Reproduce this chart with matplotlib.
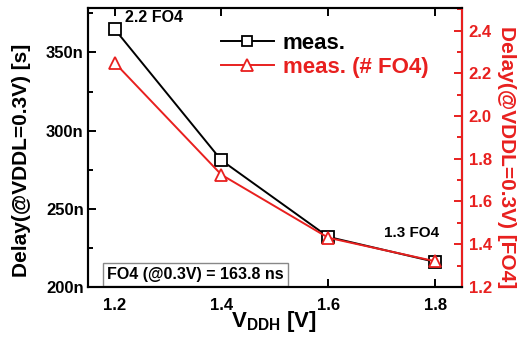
import matplotlib
matplotlib.use("Agg")
import matplotlib.pyplot as plt
from matplotlib.ticker import MultipleLocator, FuncFormatter

plt.rcParams["font.family"] = ["Liberation Sans", "DejaVu Sans"]
plt.rcParams["font.weight"] = "bold"
plt.rcParams["mathtext.fontset"] = "custom"
plt.rcParams["mathtext.bf"] = "Liberation Sans:bold"
plt.rcParams["mathtext.rm"] = "Liberation Sans:bold"

RED = "#e8201f"

vddh = [1.2, 1.4, 1.6, 1.8]
delay_ns = [365, 281, 232, 216]
delay_fo4 = [2.25, 1.725, 1.43, 1.32]

fig = plt.figure(figsize=(5.26, 3.44), dpi=100)
ax = fig.add_axes([0.167, 0.166, 0.711, 0.811])
ax2 = ax.twinx()

l1, = ax.plot(vddh, delay_ns, color="black", lw=1.4, marker="s", ms=8,
              mfc="white", mec="black", mew=1.3, label="meas.", zorder=3)
l2, = ax2.plot(vddh, delay_fo4, color=RED, lw=1.4, marker="^", ms=9,
               mfc="white", mec=RED, mew=1.3, label="meas. (# FO4)", zorder=3)

ax.set_xlim(1.15, 1.85)
ax.set_ylim(200, 378.5)
ax2.set_ylim(1.2, 2.506)

ax.xaxis.set_major_locator(MultipleLocator(0.2))
ax.yaxis.set_major_locator(MultipleLocator(50))
ax.yaxis.set_minor_locator(MultipleLocator(25))
ax.yaxis.set_major_formatter(FuncFormatter(lambda v, p: f"{v:.0f}n"))
ax2.yaxis.set_major_locator(MultipleLocator(0.2))
ax2.yaxis.set_minor_locator(MultipleLocator(0.1))
ax2.yaxis.set_major_formatter(FuncFormatter(lambda v, p: f"{v:.1f}"))

for a in (ax, ax2):
    for s in a.spines.values():
        s.set_linewidth(1.5)
ax2.spines["right"].set_color(RED)

ax.tick_params(axis="both", which="both", direction="in", top=True, width=1.4,
               labelsize=12)
ax.tick_params(axis="y", pad=3)
ax.tick_params(axis="x", pad=8)
ax.tick_params(which="major", length=6)
ax.tick_params(which="minor", length=3.5)
ax2.tick_params(axis="y", which="both", direction="in", colors=RED, width=1.4,
                labelsize=12, pad=5)
ax2.tick_params(which="major", length=6)
ax2.tick_params(which="minor", length=3.5)

ax.set_xlabel(r"$\mathbf{V_{DDH}}$ [V]", fontsize=16, fontweight="bold")
ax.xaxis.set_label_coords(0.497, -0.08)
ax.set_ylabel("Delay(@VDDL=0.3V) [s]", fontsize=15, fontweight="bold")
ax.yaxis.set_label_coords(-0.152, 0.455)
ax2.set_ylabel("Delay(@VDDL=0.3V) [FO4]", fontsize=15, fontweight="bold",
               color=RED, rotation=270)
ax2.yaxis.label.set_va("bottom")
ax2.yaxis.set_label_coords(1.094, 0.466)

ax.text(1.219, 372.5, "2.2 FO4", fontsize=11.5, fontweight="bold", ha="left", va="center")
ax.text(1.808, 234.6, "1.3 FO4", fontsize=11, fontweight="bold", ha="right", va="center")
ax.text(1.186, 208, "FO4 (@0.3V) = 163.8 ns", fontsize=11.5, fontweight="bold",
        ha="left", va="center",
        bbox=dict(boxstyle="square,pad=0.25", fc="white", ec="#888888", lw=1))

leg = ax.legend(handles=[l1, l2], loc="center left", bbox_to_anchor=(0.355, 0.83),
                frameon=False, fontsize=16, handlelength=2.4, handletextpad=0.4,
                labelspacing=0.15, borderaxespad=0, borderpad=0, markerscale=0.9)
leg.get_texts()[1].set_color(RED)
for t in leg.get_texts():
    t.set_fontweight("bold")

fig.savefig("out.png", dpi=100)
